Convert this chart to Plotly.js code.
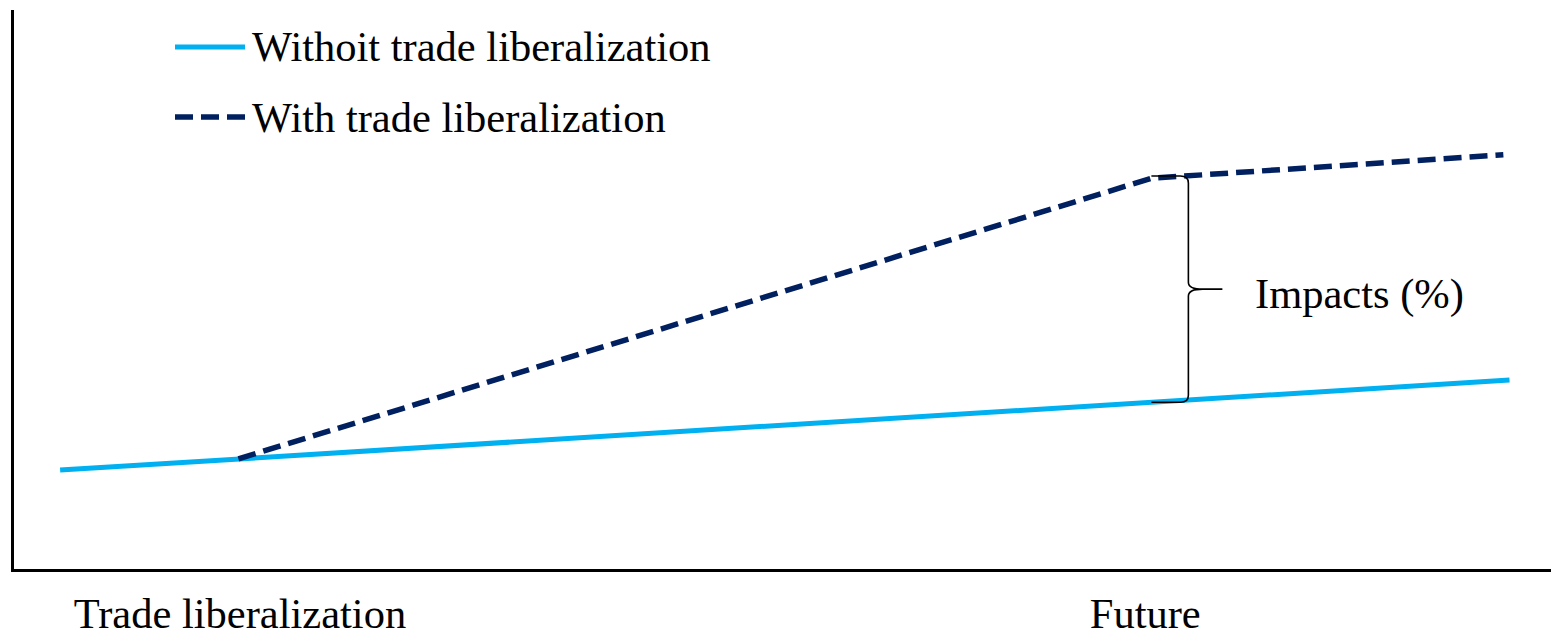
<!DOCTYPE html>
<html>
<head>
<meta charset="utf-8">
<script src="https://cdn.plot.ly/plotly-3.0.1.min.js"></script>
<style>
html, body { margin: 0; padding: 0; background: #fff; }
#chart { width: 1551px; height: 638px; }
</style>
</head>
<body>
<div id="chart"></div>
<script>
// ---- data (time index 0..100, outcome index 0..100) ----
const seriesNames = ['Withoit trade liberalization', 'With trade liberalization'];
const baselineX = [3.0, 97.3];
const baselineY = [17.7, 33.8];
const scenarioX = [14.6, 74.0, 96.9];
const scenarioY = [19.7, 69.9, 74.1];
const milestoneX = [14.7, 73.6];
const milestoneLabels = ['Trade liberalization', 'Future'];
const impactLabel = 'Impacts (%)';

(function () {
const FONT = '"Liberation Serif", "Times New Roman", serif';
const FS = 42.5;
const LIGHT = '#00B0F0';
const DARK = '#002060';
const DASH = '18px,8px';

// layout geometry
const W = 1551, H = 638;
const M = { l: 14, r: 0, t: 10, b: 69 };
const pw = W - M.l - M.r, ph = H - M.t - M.b;
const xr = [0, 100], yr = [0, 100];
const pxX = (xr[1] - xr[0]) / pw;   // data per px
const pxY = (yr[1] - yr[0]) / ph;

// brace spanning the gap at the "Future" point
const kx = scenarioX[1];
const bTop = scenarioY[1] + 0.4;
const bBot = baselineY[0] + (kx - baselineX[0]) * (baselineY[1] - baselineY[0]) / (baselineX[1] - baselineX[0]);
const bMid = (bTop + bBot) / 2;
const vx = kx + 37 * pxX, tipx = kx + 71 * pxX, cx = kx + 29 * pxX;
const r = 7 * pxY, rx = 8 * pxX;
const bracePath =
  `M ${kx},${bTop} L ${cx},${bTop} Q ${vx},${bTop} ${vx},${bTop - r} ` +
  `L ${vx},${bMid + r} Q ${vx},${bMid} ${vx + rx * 1.8},${bMid} L ${tipx},${bMid} ` +
  `M ${vx + rx * 1.8},${bMid} Q ${vx},${bMid} ${vx},${bMid - r} ` +
  `L ${vx},${bBot + r} Q ${vx},${bBot} ${cx},${bBot} L ${kx},${bBot}`;

const traces = [
  { x: baselineX, y: baselineY, name: seriesNames[0], mode: 'lines',
    line: { color: LIGHT, width: 5 }, hoverinfo: 'skip', showlegend: false },
  { x: scenarioX, y: scenarioY, name: seriesNames[1], mode: 'lines',
    line: { color: DARK, width: 5.5, dash: DASH }, hoverinfo: 'skip', showlegend: false }
];

// manual legend (paper coords)
const py = p => (H - M.b - p) / ph;
const pxp = p => (p - M.l) / pw;
const legendRows = [47, 117];
const shapes = [
  { type: 'path', xref: 'x', yref: 'y', path: bracePath, line: { color: '#000', width: 1.6 } }
];
const annotations = [
  { xref: 'x', yref: 'y', x: tipx + 31 * pxX, y: bMid - 5 * pxY, text: impactLabel, showarrow: false,
    xanchor: 'left', yanchor: 'middle', font: { family: FONT, size: FS, color: '#000' } }
];
seriesNames.forEach((n, i) => {
  shapes.push({ type: 'line', xref: 'paper', yref: 'paper',
    x0: pxp(175), x1: pxp(245), y0: py(legendRows[i]), y1: py(legendRows[i]),
    line: { color: i === 0 ? LIGHT : DARK, width: i === 0 ? 5 : 5.5, dash: i === 0 ? 'solid' : DASH } });
  annotations.push({ xref: 'paper', yref: 'paper', x: pxp(250), y: py(legendRows[i]),
    text: n, showarrow: false, xanchor: 'left', yanchor: 'middle',
    font: { family: FONT, size: FS, color: '#000' } });
});

const layout = {
  width: W, height: H,
  margin: M,
  paper_bgcolor: '#fff', plot_bgcolor: '#fff',
  showlegend: false,
  xaxis: { range: xr, showgrid: false, zeroline: false, showline: true, linecolor: '#000', linewidth: 3,
    tickvals: milestoneX, ticktext: milestoneLabels, ticks: '', ticklabelstandoff: 5,
    tickfont: { family: FONT, size: FS, color: '#000' }, fixedrange: true },
  yaxis: { range: yr, showgrid: false, zeroline: false, showline: true, linecolor: '#000', linewidth: 3,
    showticklabels: false, ticks: '', fixedrange: true },
  shapes: shapes,
  annotations: annotations,
  font: { family: FONT, color: '#000' }
};

Plotly.newPlot('chart', traces, layout, { displayModeBar: false, staticPlot: true });
})();
</script>
</body>
</html>
